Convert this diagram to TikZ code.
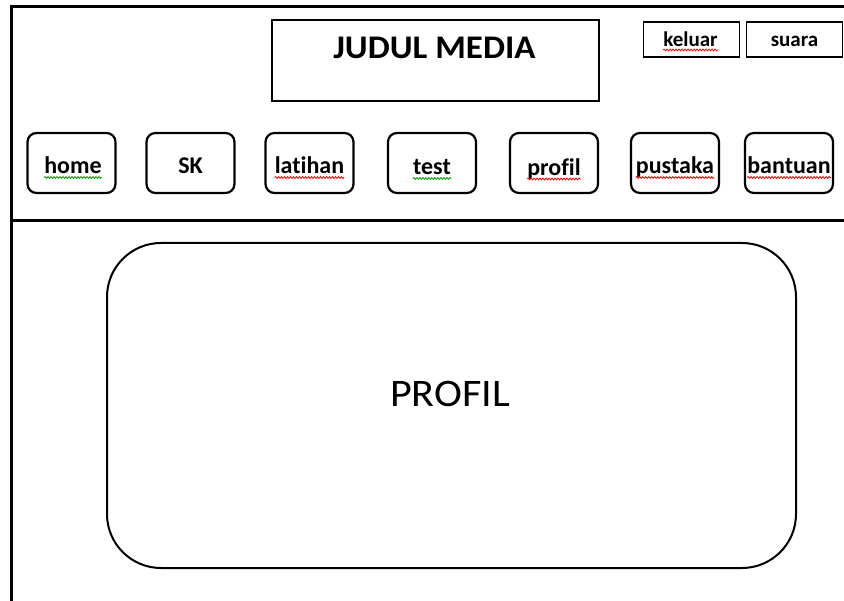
\documentclass[tikz,border=0pt]{standalone}
\usepackage{fontspec}
\usepackage{graphicx}
\setmainfont{Carlito}[Ligatures=NoCommon]
\usetikzlibrary{decorations.pathmorphing}

\tikzset{
  frameline/.style={line width=3pt, line cap=rect},
  titlebox/.style={draw, line width=1.6pt, rectangle, minimum width=327pt, minimum height=81pt, inner sep=0pt},
  smallbox/.style={draw, line width=1.6pt, rectangle, minimum width=96pt, minimum height=35pt, inner sep=0pt},
  navbox/.style={draw, line width=2.2pt, rectangle, rounded corners=9pt, minimum width=88pt, minimum height=60pt, inner sep=0pt},
  mainbox/.style={draw, line width=2pt, rectangle, rounded corners=54pt, minimum width=689pt, minimum height=325pt, inner sep=0pt},
  navtext/.style={anchor=base, inner sep=0pt, font=\fontsize{24}{28}\selectfont\bfseries},
  smalltext/.style={anchor=base, inner sep=0pt, font=\fontsize{21}{25}\selectfont\bfseries},
  squiggle/.style={line width=0.8pt, decorate, decoration={snake, amplitude=0.9pt, segment length=3pt}},
  redsq/.style={squiggle, draw=red!85!black},
  greensq/.style={squiggle, draw=green!60!black},
}

\begin{document}
\begin{tikzpicture}[x=1pt, y=-1pt]
\useasboundingbox (0,0) rectangle (844,601);

% page frame and header divider
\coordinate (tl) at (11,6.5);
\coordinate (tr) at (850,6.5);
\coordinate (bl) at (11,610);
\coordinate (dl) at (11,221);
\coordinate (dr) at (850,221);
\draw[frameline] (tr) -- (tl) -- (bl);
\draw[frameline] (dl) -- (dr);

% title
\node[titlebox] (title) at (435.5,60.5) {};
\node[anchor=base, inner sep=0pt, font=\fontsize{33}{38}\selectfont\bfseries] (titletext) at (434.5,59) {\scalebox{1.06}[1]{JUDUL MEDIA}};

% top-right buttons
\node[smallbox] (keluar) at (691.5,39.5) {};
\node[smalltext] (keluartext) at (690.5,47) {keluar};
\node[smallbox] (suara) at (794.5,39.5) {};
\node[smalltext] (suaratext) at (794.5,47) {suara};

% navigation buttons
\node[navbox] (home)    at (71.5,163)  {};
\node[navbox] (sk)      at (190.5,163) {};
\node[navbox] (latihan) at (309.5,163) {};
\node[navbox] (test)    at (432,163)   {};
\node[navbox] (profil)  at (554,163)   {};
\node[navbox] (pustaka) at (675,163)   {};
\node[navbox] (bantuan) at (789,163)   {};

\node[navtext] (hometext)    at (73,174)  {home};
\node[navtext] (sktext)      at (190.5,173.5) {SK};
\node[navtext] (latihantext) at (309.5,174) {latihan};
\node[navtext] (testtext)    at (432,175) {test};
\node[navtext] (profiltext)  at (554,175.5) {profil};
\node[navtext] (pustakatext) at (675,174) {pustaka};
\node[navtext] (bantuantext) at (789,174) {bantuan};

% spelling marks under words
\draw[greensq] ([yshift=-3.5pt]hometext.base west) -- ([yshift=-3.5pt]hometext.base east);
\draw[redsq] ([yshift=-3.5pt]latihantext.base west) -- ([yshift=-3.5pt]latihantext.base east);
\draw[greensq] ([yshift=-3.5pt]testtext.base west) -- ([yshift=-3.5pt]testtext.base east);
\draw[redsq] ([yshift=-3.5pt]profiltext.base west) -- ([yshift=-3.5pt]profiltext.base east);
\draw[redsq] ([yshift=-3.5pt]pustakatext.base west) -- ([yshift=-3.5pt]pustakatext.base east);
\draw[redsq] ([yshift=-3.5pt]bantuantext.base west) -- ([yshift=-3.5pt]bantuantext.base east);
\draw[redsq] ([yshift=-3pt]keluartext.base west) -- ([yshift=-3pt]keluartext.base east);

% content panel
\node[mainbox] (panel) at (451.5,405.5) {};
\node[anchor=base, inner sep=0pt, font=\fontsize{39}{45}\selectfont] (paneltext) at (450,407) {\scalebox{1.08}[1]{PROFIL}};
\end{tikzpicture}
\end{document}
